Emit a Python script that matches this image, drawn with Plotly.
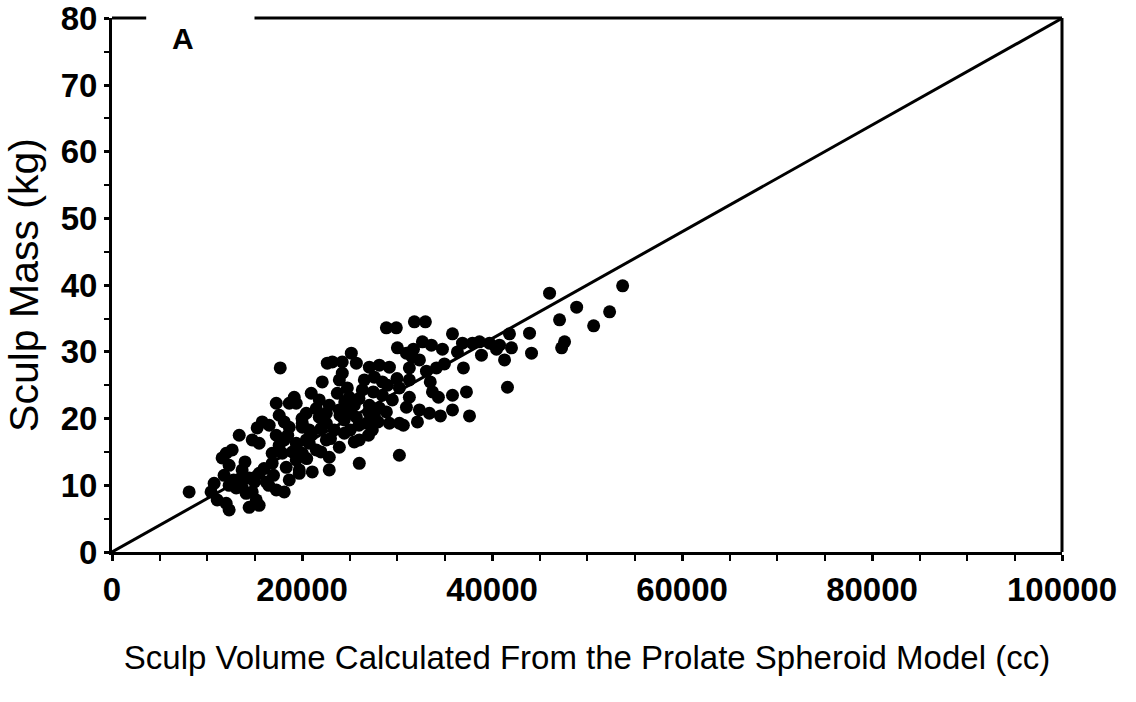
import plotly.graph_objects as go

# Sculp volume (cc) and sculp mass (kg)
volume_cc = [
    46060, 53750, 48910, 47110, 43950, 44160, 47640, 47330, 50700, 52380,
    41630, 41840, 42050, 41320, 40790, 40470, 39740, 38890, 38680, 37940,
    36890, 36360, 35840, 34780, 33620, 32670, 31730, 30990, 31620, 32360,
    32990, 31830, 29930, 28880, 30040, 36990, 34990, 34150, 33100, 31300,
    34360, 35840, 37310, 33730, 31300, 30250, 37630, 35840, 34570, 33410,
    32360, 30990, 32150, 30670, 28880, 30250,
    25190, 24240, 23190, 25720, 27090, 28140, 29200, 24240, 23930, 22130,
    26560, 27610, 28460, 24770, 26350, 20970, 19180, 31300, 23720, 24980,
    28460, 19390, 20450, 21820, 22560, 23930, 25720, 26770, 27400, 29200,
    30250, 19390, 20760, 22560, 23930, 22870, 26030, 19710, 21080, 22870,
    22660,
    17710, 17290, 18660, 17600, 18130, 15810, 15280, 13390, 20030, 20760,
    22560, 8120, 12020, 12650, 11590, 12330, 10750, 10430, 11070, 12020,
    12330, 14760, 15490, 17290, 17600, 16860, 17920, 16860, 18340, 13700,
    14440, 15490, 16230, 12330, 13070, 13700, 14120, 14760, 15180, 14440,
    15490, 17290, 18130, 18660, 19710, 19390, 20030, 18660, 20030, 20450,
    25080, 24450, 23400, 26030, 25500, 27090, 27610, 21820, 22870, 24450,
    21500, 18130, 16550, 29510, 28140,
    21000, 22000, 23000, 24000, 25000, 26000, 27000, 28000, 24500, 26000,
    27500, 29000, 21500, 20000, 18500, 19000, 17000, 16000, 14000, 13500,
    22000, 25500, 27000, 30000, 33500, 15000, 16500, 12800, 11800, 20500,
]
mass_kg = [
    38.8, 39.9, 36.7, 34.8, 32.8, 29.8, 31.5, 30.6, 33.9, 36.0,
    24.7, 32.7, 30.6, 28.8, 31.0, 30.4, 31.3, 29.5, 31.5, 31.3,
    31.3, 30.0, 32.7, 30.4, 31.0, 31.5, 30.4, 29.8, 29.2, 28.8,
    34.5, 34.5, 33.6, 33.6, 30.6, 27.6, 28.2, 27.6, 27.1, 27.6,
    23.2, 23.5, 24.0, 24.0, 23.2, 24.6, 20.4, 21.3, 20.4, 20.8,
    21.3, 21.7, 19.5, 19.0, 21.0, 14.5,
    29.8, 28.5, 28.5, 28.3, 27.7, 28.0, 27.7, 26.8, 25.8, 25.5,
    25.8, 26.2, 25.5, 24.6, 24.3, 23.8, 23.2, 25.8, 23.8, 23.2,
    23.5, 22.3, 20.8, 20.2, 19.3, 21.3, 20.2, 19.3, 18.3, 19.3,
    19.3, 16.3, 16.3, 16.8, 15.7, 14.2, 13.3, 12.3, 12.0, 12.3,
    28.3,
    27.6, 22.3, 22.3, 20.5, 19.5, 19.5, 18.6, 17.5, 19.3, 18.3,
    20.8, 9.0, 14.8, 15.3, 14.1, 13.0, 10.3, 9.0, 7.8, 7.3,
    6.3, 16.8, 16.3, 17.5, 16.0, 14.8, 14.8, 13.3, 12.7, 12.3,
    11.1, 11.8, 10.5, 10.0, 9.6, 9.7, 8.8, 9.0, 7.8, 6.7,
    7.0, 9.3, 9.0, 10.8, 11.8, 13.8, 14.8, 18.7, 18.7, 16.8,
    18.3, 19.8, 18.3, 16.8, 22.0, 22.0, 20.5, 22.8, 22.0, 17.8,
    15.3, 16.8, 19.0, 22.8, 21.6,
    17.5, 18.5, 17.0, 20.5, 21.0, 19.0, 21.0, 19.5, 22.5, 23.0,
    24.0, 25.0, 21.5, 20.0, 17.5, 15.0, 11.5, 12.5, 13.5, 11.0,
    15.0, 16.5, 17.5, 26.0, 25.5, 10.5, 10.0, 10.8, 11.5, 14.0,
]

# Reference line (mass = 0.0008 * volume)
line_x = [0, 100000]
line_y = [0, 80]

x_ticks = [0, 20000, 40000, 60000, 80000, 100000]
y_ticks = [0, 10, 20, 30, 40, 50, 60, 70, 80]

FONT = "Liberation Sans, Arial, sans-serif"

fig = go.Figure()
fig.add_trace(go.Scatter(
    x=line_x, y=line_y, mode="lines",
    line=dict(color="black", width=3), showlegend=False, hoverinfo="skip",
))
fig.add_trace(go.Scatter(
    x=volume_cc, y=mass_kg, mode="markers",
    marker=dict(color="black", size=13, line=dict(width=0)),
    showlegend=False,
))

fig.update_xaxes(
    range=[0, 100000], tickvals=x_ticks, ticktext=[str(v) for v in x_ticks],
    ticks="outside", ticklen=6, tickwidth=3, tickcolor="black",
    minor=dict(dtick=5000, ticks="outside", ticklen=6, tickwidth=2, tickcolor="black"),
    showline=True, linewidth=3, linecolor="black", showgrid=False, zeroline=False,
    tickfont=dict(family=FONT, size=33, color="black", weight="bold"),
    ticklabeloverflow="allow",
    title=dict(text="Sculp Volume Calculated From the Prolate Spheroid Model (cc)",
               font=dict(family=FONT, size=33, color="black"), standoff=40),
    automargin=False,
)
fig.update_yaxes(
    range=[0, 80.05], tickvals=y_ticks, ticktext=[str(v) for v in y_ticks],
    ticks="outside", ticklen=5, tickwidth=3, tickcolor="black",
    minor=dict(dtick=5, ticks="outside", ticklen=5, tickwidth=2, tickcolor="black"),
    showline=True, linewidth=3, linecolor="black", showgrid=False, zeroline=False,
    tickfont=dict(family=FONT, size=33, color="black", weight="bold"),
    ticklabeloverflow="allow",
    title=dict(text="Sculp Mass (kg)", font=dict(family=FONT, size=41, color="black"),
               standoff=10),
    automargin=False,
)

# frame: top line with a gap for the panel letter, and right line
fig.add_shape(type="line", xref="paper", yref="paper", x0=0, x1=0.036, y0=1, y1=1,
              line=dict(color="black", width=3))
fig.add_shape(type="line", xref="paper", yref="paper", x0=0.15, x1=1, y0=1, y1=1,
              line=dict(color="black", width=3))
fig.add_shape(type="line", xref="paper", yref="paper", x0=1, x1=1, y0=0, y1=1,
              line=dict(color="black", width=3))

fig.add_annotation(text="A", xref="paper", yref="paper", x=0.0747, y=0.962,
                   xanchor="center", yanchor="middle",
                   showarrow=False, font=dict(family=FONT, size=30, color="black", weight="bold"))

fig.update_layout(
    width=1136, height=702,
    margin=dict(l=112, r=74, t=18, b=150),
    paper_bgcolor="white", plot_bgcolor="white",
)

fig.write_html("out.html")
